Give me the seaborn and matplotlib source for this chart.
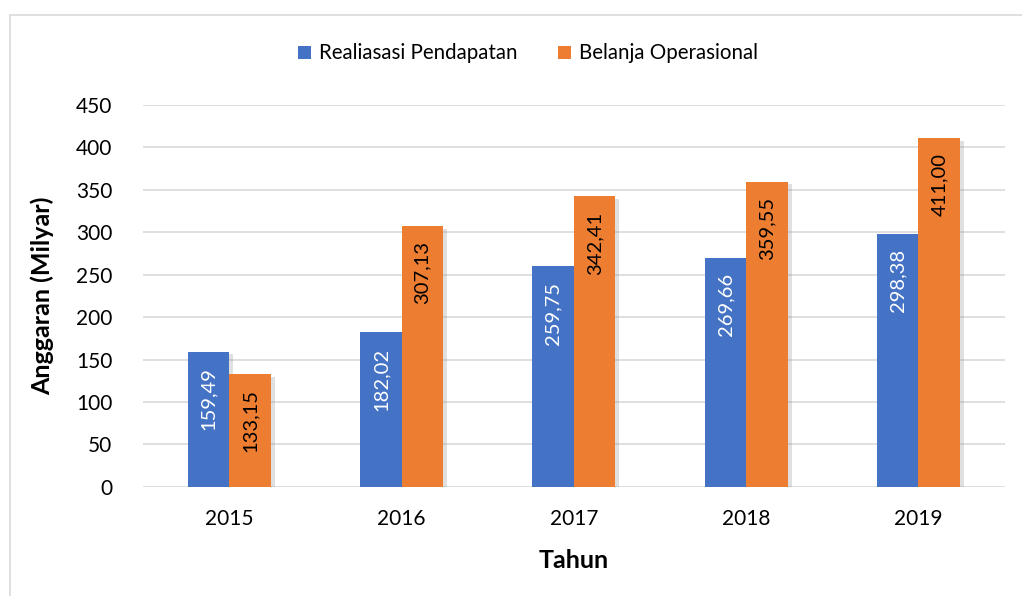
import pandas as pd
import matplotlib.pyplot as plt
import matplotlib.patheffects as pe
from matplotlib.patches import Rectangle, Patch
import seaborn as sns

# data
years = ["2015", "2016", "2017", "2018", "2019"]
pendapatan = [159.49, 182.02, 259.75, 269.66, 298.38]
belanja = [133.15, 307.13, 342.41, 359.55, 411.00]
series_names = ["Realiasasi Pendapatan", "Belanja Operasional"]
colors = ["#4472C4", "#ED7D31"]

df = pd.DataFrame({
    "Tahun": years * 2,
    "Nilai": pendapatan + belanja,
    "Seri": [series_names[0]] * len(years) + [series_names[1]] * len(years),
})

sns.set_theme(style="white")
plt.rcParams["font.family"] = ["Lato", "DejaVu Sans"]

fig = plt.figure(figsize=(10.22, 5.96), dpi=100)
ax = fig.add_axes([0.14, 0.183, 0.843, 0.641])

# light frame around the chart area
fig.patches.append(Rectangle((10 / 1022, -0.05), 1.1, 0.05 + (596 - 15) / 596,
                             transform=fig.transFigure, fill=False,
                             edgecolor="#D9D9D9", linewidth=1.2, zorder=0))

sns.barplot(data=df, x="Tahun", y="Nilai", hue="Seri", palette=colors,
            width=0.48, saturation=1, ax=ax, zorder=3, legend=False)

shadow = [pe.SimplePatchShadow(offset=(3, -2), shadow_rgbFace="#999999", alpha=0.3), pe.Normal()]
for bar in ax.patches:
    bar.set_path_effects(shadow)
    bar.set_edgecolor("none")

# value labels inside the top of each bar, rotated
for i, cont in enumerate(ax.containers):
    for bar, v in zip(cont, cont.datavalues):
        ax.annotate(f"{v:.2f}".replace(".", ","),
                    (bar.get_x() + bar.get_width() / 2, v),
                    xytext=(0, -11), textcoords="offset points",
                    rotation=90, ha="center", va="top", fontsize=14.5,
                    color="white" if i == 0 else "black", zorder=5)

ax.set_ylim(0, 450)
ax.set_yticks(range(0, 451, 50))
ax.yaxis.grid(True, color="#D9D9D9", linewidth=1.2)
ax.set_axisbelow(True)
for s in ax.spines.values():
    s.set_visible(False)
ax.tick_params(axis="both", length=0, labelsize=15, colors="black")
ax.tick_params(axis="x", pad=16)
ax.tick_params(axis="y", pad=22)
ax.set_xlabel("Tahun", fontsize=18, fontweight="bold", labelpad=14, color="black")
ax.set_ylabel("Anggaran (Milyar)", fontsize=18, fontweight="bold", labelpad=16, color="black")

handles = [Patch(facecolor=c, edgecolor="none") for c in colors]
ax.legend(handles, series_names, loc="center", bbox_to_anchor=(0.447, 1.135), ncol=2,
          frameon=False, fontsize=14.8, handlelength=0.6, handleheight=0.6,
          handletextpad=0.4, columnspacing=2.0, labelcolor="black")

fig.savefig("out.png", dpi=100)
